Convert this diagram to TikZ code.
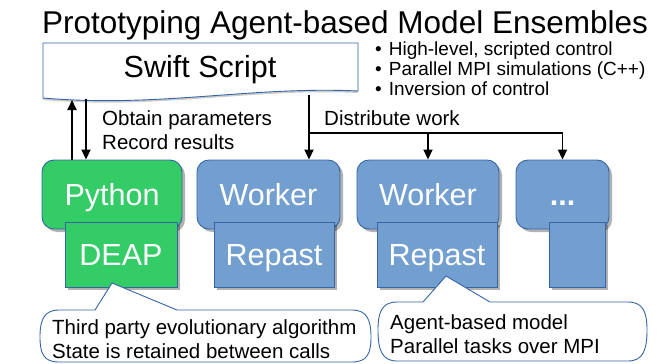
\documentclass[tikz,border=0pt]{standalone}
\usepackage{fontspec}
\setmainfont{Liberation Sans}
\usepackage{xcolor}
\usepackage{tikz}
\usetikzlibrary{
	positioning,    % posizionamento relativo
	arrows.meta,    % punte di freccia
	shadows         % ombre dei blocchi
}
\definecolor{bordoblu}{HTML}{3465A4}
\definecolor{verde}{HTML}{33CC66}
\definecolor{azzurro}{HTML}{729FCF}

\begin{document}
\begin{tikzpicture}[
			x=1pt, y=-1pt,
			freccia/.style={-{Triangle[length=10pt,width=9pt]}, line width=1.8pt},
			bordo/.style={draw=bordoblu, line width=0.9pt},
			ombra/.style={drop shadow={shadow xshift=3pt, shadow yshift=-3pt, fill=black, opacity=0.3}},
			% Stile per i blocchi arrotondati (Python, Worker)
			blocco/.style={
				bordo, ombra, rounded corners=12pt,
				minimum height=69pt, inner sep=0pt,
				text=white, font=\fontsize{30.5}{34}\selectfont,
				text height=22pt, text depth=0pt
			},
			% Stile per i moduli (DEAP, Repast)
			modulo/.style={
				bordo, ombra, minimum height=65pt, inner sep=0pt,
				text=white, font=\fontsize{30.5}{34}\selectfont,
				text height=22pt, text depth=0pt
			},
			% il "base" di un nodo a piu' righe e' l'ultima riga
			nota/.style={font=\fontsize{20.5}{24}\selectfont, align=left, anchor=base west, inner sep=0pt}
			]
			
			\useasboundingbox (0,0) rectangle (667,364);
			
			% --- Titolo ---
			\node[anchor=base, inner sep=0pt, font=\fontsize{31.5}{36}\selectfont] (titolo) at (345,33)
			{Prototyping Agent-based Model Ensembles};
			
			% --- Swift Script (forma documento) ---
			\draw[bordo, fill=white, drop shadow={shadow xshift=0pt, shadow yshift=-2pt, fill=black, opacity=0.2}]
			(43,43) -- (358,43) -- (358,91)
			.. controls (250,86) and (160,108) .. (43,98) -- cycle;
			\node[anchor=base, inner sep=0pt, font=\fontsize{30.5}{34}\selectfont] (swift) at (200,77) {Swift Script};
			
			\node[anchor=base west, inner sep=0pt, align=left, font=\fontsize{19}{20}\selectfont] (punti) at (375,95)
			{\textbullet\hspace{7pt}High-level, scripted control\\
			 \textbullet\hspace{7pt}Parallel MPI simulations (C++)\\
			 \textbullet\hspace{7pt}Inversion of control};
			
			% --- Blocchi ---
			\node[blocco, fill=verde, minimum width=140pt] (python) at (112,194.5) {Python};
			\node[modulo, fill=verde, minimum width=112pt] (deap) at (121,254.5) {DEAP};
			
			\node[blocco, fill=azzurro, minimum width=143pt] (worker1) at (268.5,194.5) {Worker};
			\node[modulo, fill=azzurro, minimum width=120pt] (repast1) at (274,254.5) {Repast};
			
			\node[blocco, fill=azzurro, minimum width=142pt] (worker2) at (428,194.5) {Worker};
			\node[modulo, fill=azzurro, minimum width=120pt] (repast2) at (437,254.5) {Repast};
			
			\node[blocco, fill=azzurro, minimum width=93pt] (worker3) at (562.5,194.5) {\textbf{...}};
			\node[modulo, fill=azzurro, minimum width=56pt] (vuoto) at (577,254.5) {};
			
			% --- Frecce ---
			\coordinate (su) at (72,100);
			\coordinate (giu) at (86,99);
			\coordinate (distr) at (309,95);
			\coordinate (ramo) at (309,133);
			
			\draw[freccia] (python.north -| su) -- (su);
			\draw[freccia] (giu) -- (python.north -| giu);
			\draw[freccia] (distr) -- (worker1.north -| distr);
			\draw[line width=1.8pt] (ramo) -- (ramo -| worker3.north);
			\draw[freccia] (ramo -| worker2.north) -- (worker2.north);
			\draw[freccia] (ramo -| worker3.north) -- (worker3.north);
			
			\node[nota] (ottieni) at (102,149) {Obtain parameters\\Record results};
			\node[nota] (distribuisci) at (324,125) {Distribute work};
			
			% --- Fumetti ---
			\draw[bordo, fill=white]
			(95,310) -- (112,283) -- (177,310) -- (352,310)
			.. controls (367,310) and (371,320) .. (371,337)
			.. controls (371,354) and (367,362) .. (352,362) -- (59,362)
			.. controls (44,362) and (40,354) .. (40,337)
			.. controls (40,320) and (44,310) .. (59,310) -- cycle;
			\node[nota] (terzi) at (52,358) {Third party evolutionary algorithm\\State is retained between calls};
			
			\draw[bordo, fill=white]
			(423,302) -- (446,276) -- (490,302) -- (628,302)
			.. controls (643,302) and (647,312) .. (647,330)
			.. controls (647,350) and (643,361) .. (628,361) -- (397,361)
			.. controls (382,361) and (378,350) .. (378,330)
			.. controls (378,312) and (382,302) .. (397,302) -- cycle;
			\node[nota] (agenti) at (390,353) {Agent-based model\\Parallel tasks over MPI};
			
		\end{tikzpicture}
\end{document}
